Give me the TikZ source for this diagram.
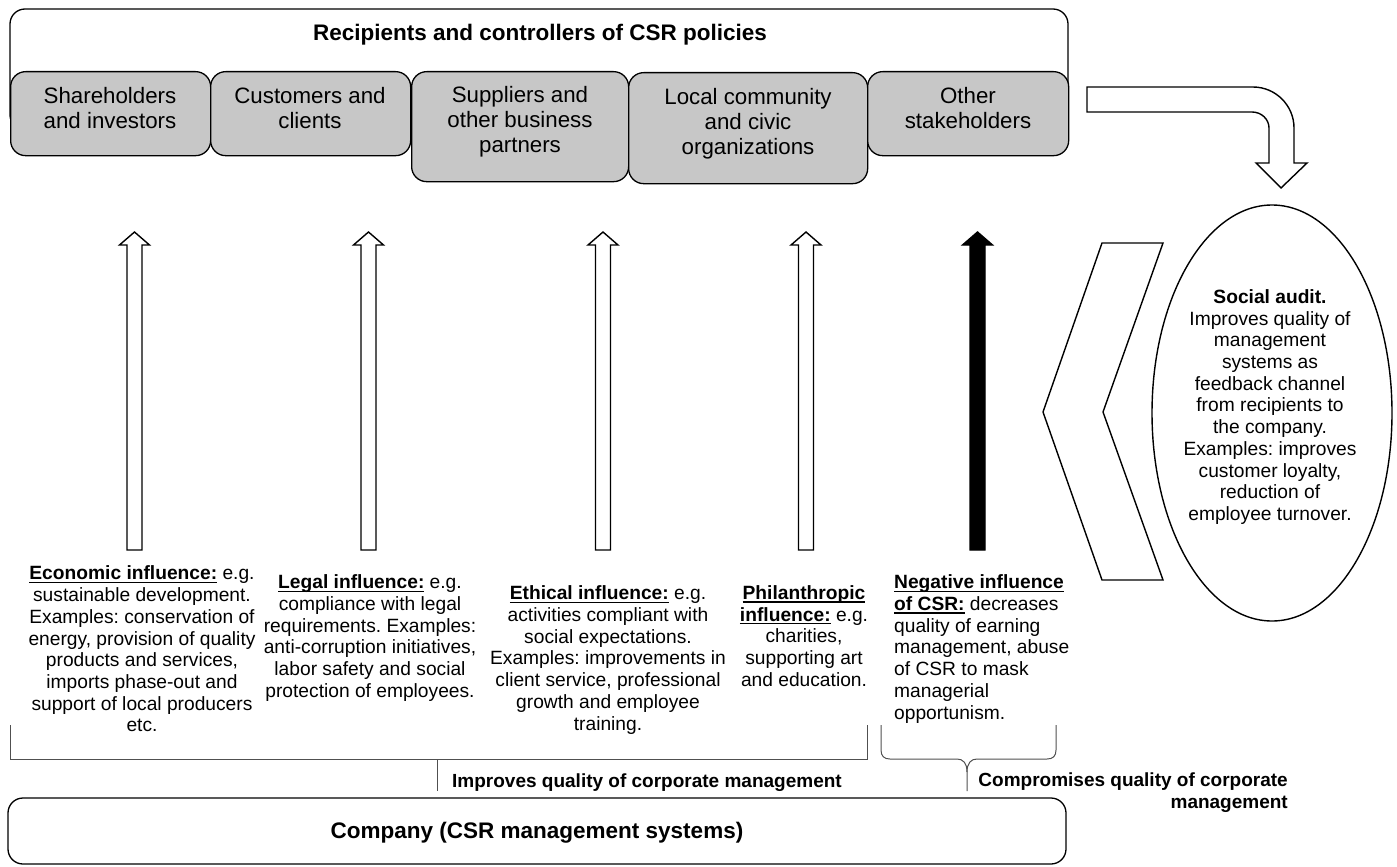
\documentclass[tikz,border=0pt]{standalone}
\usepackage{fontspec}
\setmainfont{Liberation Sans}
\usetikzlibrary{shapes.geometric}
\frenchspacing
\definecolor{boxgray}{RGB}{199,199,199}
\definecolor{brk}{RGB}{80,80,80}
\newcommand{\csrul}[1]{\setbox0\hbox{#1}\rlap{\rule[-3.2pt]{\wd0}{1.3pt}}\box0\relax}
\newcommand{\csrUpArrow}[2]{%
  \draw[outline, fill=#2] ({#1-7.5},550) -- ({#1-7.5},245) -- ({#1-15},245) -- (#1,232) -- ({#1+15},245) -- ({#1+7.5},245) -- ({#1+7.5},550) -- cycle;}
\begin{document}
\begin{tikzpicture}[x=1pt,y=-1pt,
  outline/.style={draw=black, line width=1.4pt, line join=miter},
  graybox/.style={draw=black, line width=1.3pt, fill=boxgray, rounded corners=15pt, inner sep=0pt, anchor=north west},
  boxtext/.style={font=\fontsize{22.3}{25}\selectfont, align=center, inner sep=0pt},
  bodytext/.style={font=\fontsize{19.2}{21.7}\selectfont, align=center, inner sep=0pt},
  bigbold/.style={font=\fontsize{22.5}{27}\selectfont\bfseries, inner sep=0pt},
  labelbold/.style={font=\fontsize{19}{21.8}\selectfont\bfseries, inner sep=0pt},
  bracket/.style={draw=brk, line width=1pt}]
\useasboundingbox (0,0) rectangle (1397,867);
\fill[white] (0,0) rectangle (1397,867);

% top container
\draw[line width=1.3pt, fill=white, rounded corners=15pt] (10,9) rectangle (1068,130);
\node[bigbold] (title) at (540,35) {Recipients and controllers of CSR policies};

% stakeholder boxes
\node[graybox, minimum width=200pt, minimum height=84pt] (b1) at (10,71) {};
\node[graybox, minimum width=200pt, minimum height=84pt] (b2) at (210,71) {};
\node[graybox, minimum width=217pt, minimum height=110pt] (b3) at (411,71) {};
\node[graybox, minimum width=239pt, minimum height=111pt] (b4) at (628,72) {};
\node[graybox, minimum width=201pt, minimum height=84pt] (b5) at (867,71) {};
\node[boxtext] (t1) at (110,108) {Shareholders\\and investors};
\node[boxtext] (t2) at (310,108) {Customers and\\clients};
\node[boxtext] (t3) at (520,122) {Suppliers and\\other business\\partners};
\node[boxtext] (t4) at (748,124) {Local community\\and civic\\organizations};
\node[boxtext] (t5) at (968,108) {Other\\stakeholders};

% bent arrow
\draw[outline, fill=white] (1087,87) -- (1253,87) .. controls (1275.6,87) and (1294,105.4) .. (1294,128)
  -- (1294,163) -- (1307,163) -- (1281,188) -- (1256,163) -- (1269,163) -- (1269,128)
  .. controls (1269,119.2) and (1261.4,112) .. (1252,112) -- (1087,112) -- cycle;

% vertical arrows
\csrUpArrow{134.5}{white}
\csrUpArrow{368.5}{white}
\csrUpArrow{603}{white}
\csrUpArrow{806}{white}
\csrUpArrow{977.5}{black}

% chevron
\draw[outline, fill=white] (1102,243) -- (1163,243) -- (1103,412) -- (1163,580) -- (1102,580) -- (1043,412) -- cycle;

% ellipse
\node[draw, line width=1.4pt, ellipse, minimum width=240pt, minimum height=416pt, inner sep=0pt] (audit) at (1272,413) {};
\node[bodytext] (audittext) at (1270,407) {\textbf{Social audit.}\\Improves quality of\\management\\systems as\\feedback channel\\from recipients to\\the company.\\Examples: improves\\customer loyalty,\\reduction of\\employee turnover.};

% influence texts
\node[bodytext] (econ) at (142,649) {\csrul{\textbf{Economic influence:}} e.g.\\sustainable development.\\Examples: conservation of\\energy, provision of quality\\products and services,\\imports phase-out and\\support of local producers\\etc.};
\node[bodytext] (legal) at (370,638) {\csrul{\textbf{Legal influence:}} e.g.\\compliance with legal\\requirements. Examples:\\anti-corruption initiatives,\\labor safety and social\\protection of employees.};
\node[bodytext] (ethic) at (608,660) {\csrul{\textbf{Ethical influence:}} e.g.\\activities compliant with\\social expectations.\\Examples: improvements in\\client service, professional\\growth and employee\\training.};
\node[bodytext] (phil) at (804,636) {\csrul{\textbf{Philanthropic}}\\\csrul{\textbf{influence:}} e.g.\\charities,\\supporting art\\and education.};
\node[bodytext, align=left, anchor=west] (neg) at (894,649) {\csrul{\textbf{Negative influence}}\\\csrul{\textbf{of CSR:}} decreases\\quality of earning\\management, abuse\\of CSR to mask\\managerial\\opportunism.};

% brackets
\draw[bracket] (10,725) -- (10,759) -- (867,759) -- (867,725);
\coordinate (stemL) at (437,759);
\coordinate (stemLend) at (437,791);
\draw[bracket] (stemL) -- (stemLend);
\draw[bracket] (881,725) -- (881,750) .. controls (881,756) and (884,759) .. (890,759) -- (957,759)
  .. controls (963,759) and (967,763) .. (967,772) -- (967,791);
\draw[bracket] (967,772) .. controls (967,763) and (971,759) .. (977,759) -- (1047,759)
  .. controls (1053,759) and (1056,756) .. (1056,750) -- (1056,725);

\node[labelbold] (improves) at (647,783) {Improves quality of corporate management};
\node[labelbold, align=right, anchor=east] (compromises) at (1288,793) {Compromises quality of corporate\\management};

% company box
\draw[line width=1.3pt, rounded corners=15pt] (8,798) rectangle (1066,864);
\node[bigbold] (company) at (537,833) {Company (CSR management systems)};
\end{tikzpicture}
\end{document}
